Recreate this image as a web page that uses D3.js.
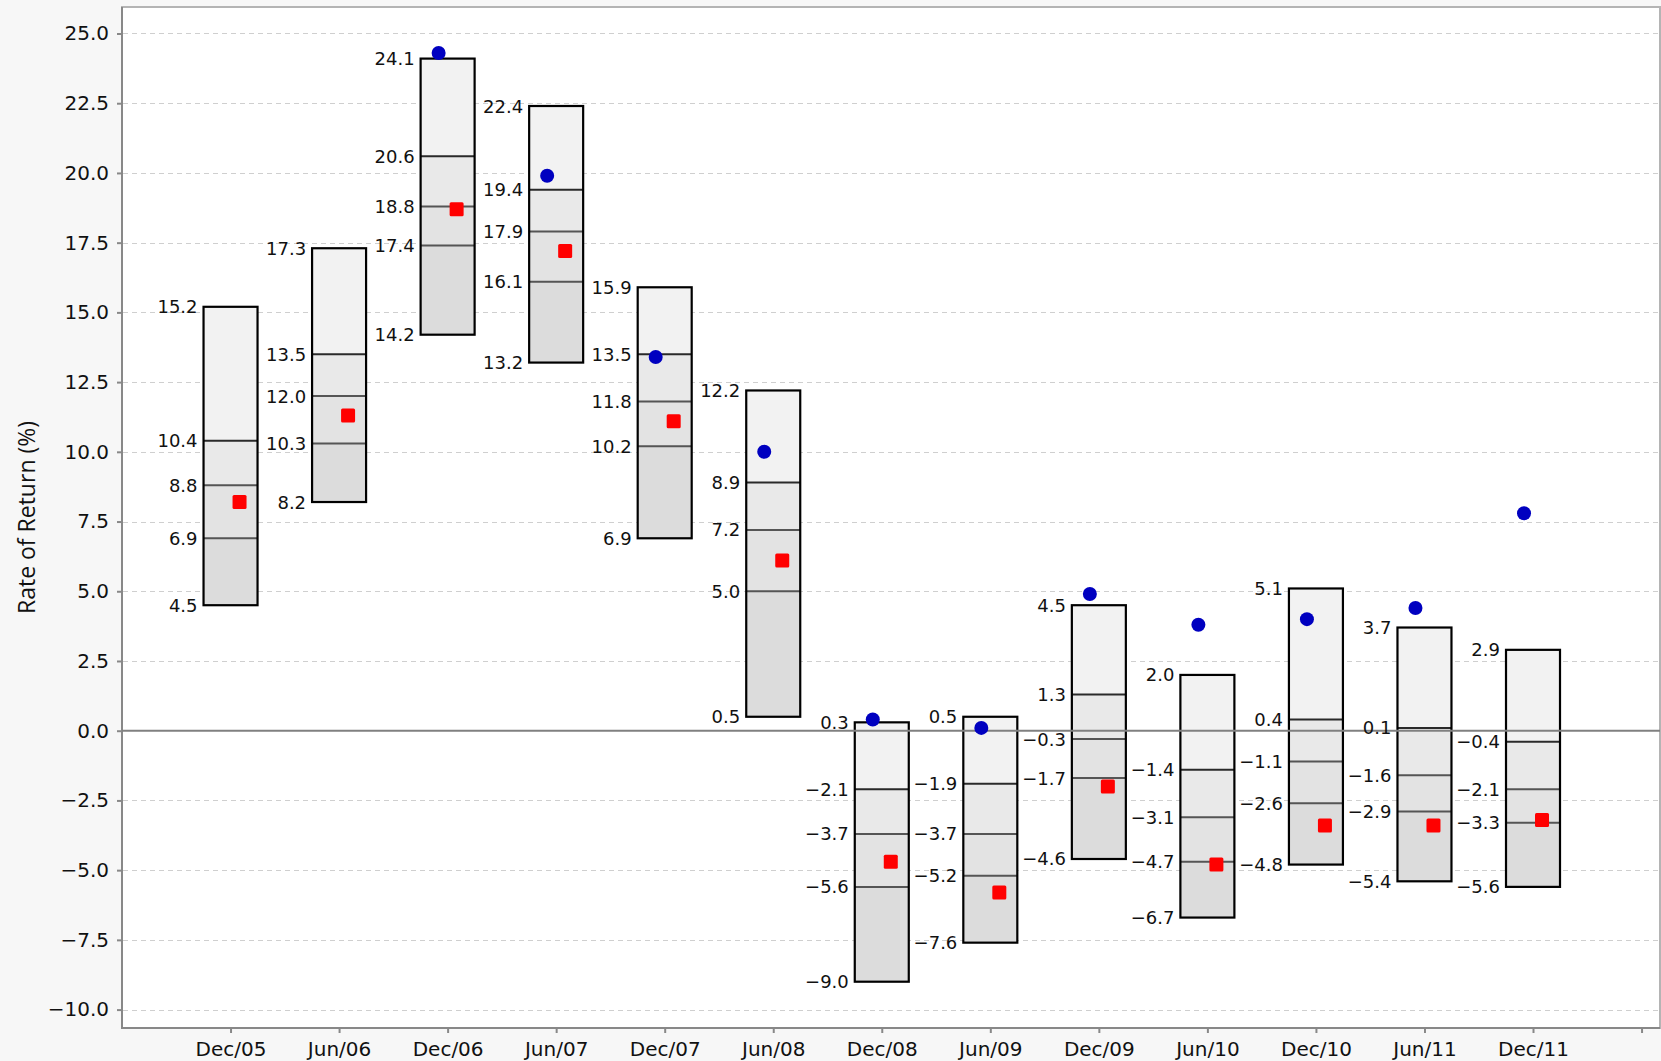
<!DOCTYPE html>
<html>
<head>
<meta charset="utf-8">
<script src="https://cdn.jsdelivr.net/npm/d3@7"></script>
<style>
  html, body { margin: 0; padding: 0; background: #f7f7f7; }
  svg { display: block; }
</style>
</head>
<body>
<svg id="chart" width="1661" height="1061"></svg>
<script>
const categories = ["Dec/05","Jun/06","Dec/06","Jun/07","Dec/07","Jun/08","Dec/08","Jun/09","Dec/09","Jun/10","Dec/10","Jun/11","Dec/11"];
const maxVals    = [15.2, 17.3, 24.1, 22.4, 15.9, 12.2,  0.3,  0.5,  4.5,  2.0,  5.1,  3.7,  2.9];
const q75Vals    = [10.4, 13.5, 20.6, 19.4, 13.5,  8.9, -2.1, -1.9,  1.3, -1.4,  0.4,  0.1, -0.4];
const medianVals = [ 8.8, 12.0, 18.8, 17.9, 11.8,  7.2, -3.7, -3.7, -0.3, -3.1, -1.1, -1.6, -2.1];
const q25Vals    = [ 6.9, 10.3, 17.4, 16.1, 10.2,  5.0, -5.6, -5.2, -1.7, -4.7, -2.6, -2.9, -3.3];
const minVals    = [ 4.5,  8.2, 14.2, 13.2,  6.9,  0.5, -9.0, -7.6, -4.6, -6.7, -4.8, -5.4, -5.6];
const portfolioVals = [8.2, 11.3, 18.7, 17.2, 11.1, 6.1, -4.7, -5.8, -2.0, -4.8, -3.4, -3.4, -3.2];
const benchmarkVals = [null, null, 24.3, 19.9, 13.4, 10.0, 0.4, 0.1, 4.9, 3.8, 4.0, 4.4, 7.8];
const yTickVals = [-10, -7.5, -5, -2.5, 0, 2.5, 5, 7.5, 10, 12.5, 15, 17.5, 20, 22.5, 25];
const yTitle = "Rate of Return (%)";

const svg = d3.select("#chart");
const L = 122, R = 1660, T = 7, B = 1028;

const x = d3.scaleLinear().domain([0, 14.17]).range([L, R]);
const y = d3.scaleLinear().domain([-10.66, 25.95]).range([B, T]);

// plot background
svg.append("rect").attr("x", L).attr("y", T).attr("width", R - L).attr("height", B - T)
  .attr("fill", "#ffffff").attr("stroke", "#b4b4b4").attr("stroke-width", 2);

// grid
svg.append("g").selectAll("line").data(yTickVals.filter(v => v !== 0)).join("line")
  .attr("x1", L + 1).attr("x2", R - 1)
  .attr("y1", d => Math.round(y(d)) + 0.5).attr("y2", d => Math.round(y(d)) + 0.5)
  .attr("stroke", "#cfcfcf").attr("stroke-width", 1).attr("stroke-dasharray", "5,4");

// Y axis
const yAxis = d3.axisLeft(y).tickValues(yTickVals).tickFormat(d => d3.format(".1f")(d).replace("-", "\u2212")).tickSize(5).tickPadding(8);
const gy = svg.append("g").attr("transform", `translate(${L},0)`).call(yAxis);
gy.select(".domain").remove();
gy.selectAll(".tick line").attr("stroke", "#888").attr("stroke-width", 2);
gy.selectAll(".tick text").attr("font-family", "DejaVu Sans, sans-serif").attr("font-size", 20).attr("fill", "#111");

// X axis
const xAxis = d3.axisBottom(x).tickValues(d3.range(1, 15)).tickFormat(d => categories[d - 1] || "").tickSize(5).tickPadding(9);
const gx = svg.append("g").attr("transform", `translate(0,${B})`).call(xAxis);
gx.select(".domain").remove();
gx.selectAll(".tick line").attr("stroke", "#888").attr("stroke-width", 2);
gx.selectAll(".tick text").attr("font-family", "DejaVu Sans, sans-serif").attr("font-size", 20).attr("fill", "#111");

// axis lines
svg.append("line").attr("x1", L).attr("x2", L).attr("y1", T).attr("y2", B + 1).attr("stroke", "#888").attr("stroke-width", 2);
svg.append("line").attr("x1", L - 1).attr("x2", R).attr("y1", B).attr("y2", B).attr("stroke", "#888").attr("stroke-width", 2);

// y title
svg.append("text").attr("transform", `translate(26,${(T + B) / 2}) rotate(-90)`)
  .attr("text-anchor", "middle").attr("dominant-baseline", "central")
  .attr("font-family", "Open Sans, sans-serif").attr("font-size", 23).attr("fill", "#111")
  .text(yTitle);

// boxes
const boxW = 54;
const fills = ["#f2f2f2", "#e9e9e9", "#e3e3e3", "#dcdcdc"];
const rows = categories.map((c, i) => ({
  i: i + 1,
  v: [maxVals[i], q75Vals[i], medianVals[i], q25Vals[i], minVals[i]],
  p: portfolioVals[i], b: benchmarkVals[i]
}));

const gBox = svg.append("g");
rows.forEach(r => {
  const cx = x(r.i);
  const g = gBox.append("g");
  for (let k = 0; k < 4; k++) {
    g.append("rect").attr("x", cx - boxW / 2).attr("width", boxW)
      .attr("y", y(r.v[k])).attr("height", y(r.v[k + 1]) - y(r.v[k]))
      .attr("fill", fills[k]);
  }
  [1, 2, 3].forEach(k => {
    g.append("line").attr("x1", cx - boxW / 2).attr("x2", cx + boxW / 2)
      .attr("y1", y(r.v[k])).attr("y2", y(r.v[k]))
      .attr("stroke", k === 1 ? "#2a2a2a" : "#555").attr("stroke-width", 2);
  });
  g.append("rect").attr("x", cx - boxW / 2).attr("width", boxW)
    .attr("y", y(r.v[0])).attr("height", y(r.v[4]) - y(r.v[0]))
    .attr("fill", "none").attr("stroke", "#000").attr("stroke-width", 2.2);
});

// zero line
svg.append("line").attr("x1", L).attr("x2", R).attr("y1", y(0)).attr("y2", y(0))
  .attr("stroke", "#808080").attr("stroke-width", 2);

// labels
const gLab = svg.append("g");
rows.forEach(r => {
  const cx = x(r.i);
  r.v.forEach(v => {
    gLab.append("text").attr("x", cx - boxW / 2 - 6).attr("y", y(v))
      .attr("text-anchor", "end").attr("dominant-baseline", "central")
      .attr("font-family", "DejaVu Sans, sans-serif").attr("font-size", 18).attr("fill", "#111")
      .text(d3.format(".1f")(v).replace("-", "\u2212"));
  });
});

// markers
const sq = 14;
svg.append("g").selectAll("rect").data(rows).join("rect")
  .attr("x", d => x(d.i) + 9 - sq / 2).attr("y", d => y(d.p) - sq / 2)
  .attr("width", sq).attr("height", sq).attr("rx", 1.5).attr("fill", "#ff0000");
svg.append("g").selectAll("circle").data(rows.filter(d => d.b !== null)).join("circle")
  .attr("cx", d => x(d.i) - 9).attr("cy", d => y(d.b)).attr("r", 7)
  .attr("fill", "#0000c0");
</script>
</body>
</html>
